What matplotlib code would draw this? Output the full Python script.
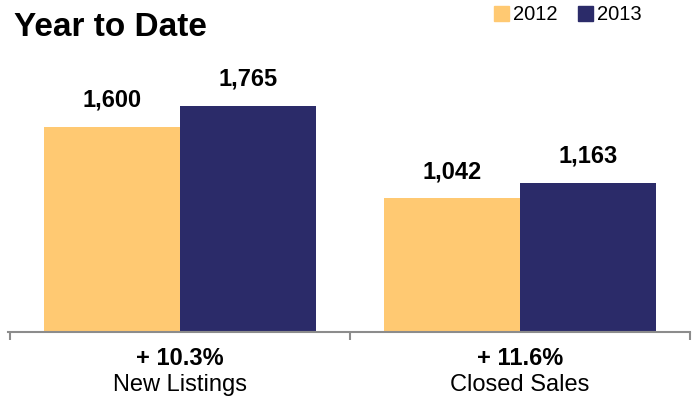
import matplotlib.pyplot as plt
from matplotlib.patches import Patch

categories = ["New Listings", "Closed Sales"]
changes    = ["+ 10.3%", "+ 11.6%"]
years      = ["2012", "2013"]
vals_2012  = [1600, 1042]
vals_2013  = [1765, 1163]

c12 = "#FFC972"
c13 = "#2B2B69"
axis_gray = "#8C8C8C"
font = "Liberation Sans"

fig = plt.figure(figsize=(6.97, 4.0), dpi=100)
ax  = fig.add_axes([0.0115, 0.17, 0.9785, 0.68])

w = 0.4
x = list(range(len(categories)))
b1 = ax.bar([i - w / 2 for i in x], vals_2012, width=w, color=c12)
b2 = ax.bar([i + w / 2 for i in x], vals_2013, width=w, color=c13)

for bars in (b1, b2):
    for rect in bars:
        v = rect.get_height()
        ax.annotate(f"{v:,.0f}", (rect.get_x() + rect.get_width() / 2, v),
                    xytext=(0, 11), textcoords="offset points",
                    ha="center", va="bottom", fontsize=17, fontweight="bold",
                    family=font)

ax.set_xlim(-0.505, 1.495)
ax.set_ylim(0, 2120)
for s in ("top", "right", "left"):
    ax.spines[s].set_visible(False)
ax.spines["bottom"].set_color(axis_gray)
ax.spines["bottom"].set_linewidth(1.5)
ax.set_yticks([])
ax.set_xticks([-0.5, 0.5, 1.5])
ax.set_xticklabels([])
ax.tick_params(axis="x", direction="out", length=6, width=1.5, color=axis_gray)

for i, (cat, ch) in enumerate(zip(categories, changes)):
    ax.text(i, -0.096, ch, transform=ax.get_xaxis_transform(), ha="center",
            va="center", fontsize=17, fontweight="bold", family=font)
    ax.text(i, -0.195, cat, transform=ax.get_xaxis_transform(), ha="center",
            va="center", fontsize=17, family=font)

fig.text(0.02, 0.932, "Year to Date", ha="left", va="center", fontsize=24,
         fontweight="bold", family=font)

handles = [Patch(color=c12, label=years[0]), Patch(color=c13, label=years[1])]
fig.legend(handles=handles, loc="center", bbox_to_anchor=(0.815, 0.963), ncol=2,
           frameon=False, handlelength=0.75, handleheight=0.75,
           handletextpad=0.2, columnspacing=1.0, prop={"family": font, "size": 14.5})

fig.savefig("out.png", dpi=100)
